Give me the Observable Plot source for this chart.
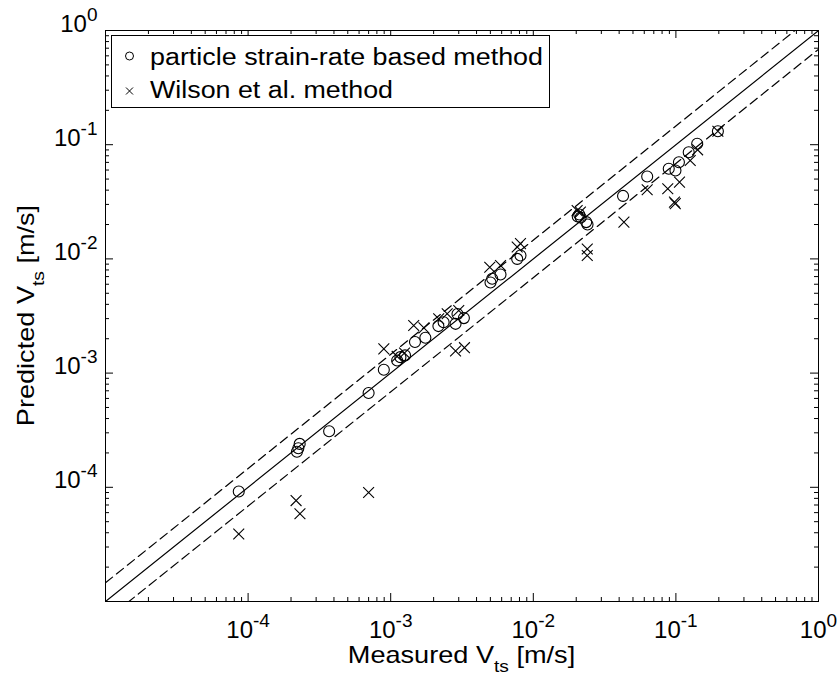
<!DOCTYPE html>
<html><head><meta charset="utf-8">
<script src="https://cdn.jsdelivr.net/npm/d3@7"></script>
<script src="https://cdn.jsdelivr.net/npm/@observablehq/plot@0.6"></script>
<style>
html,body{margin:0;padding:0;background:#fff;}
#chart svg{display:block;font-family:"Liberation Sans",Arial,Helvetica,sans-serif;}
</style></head><body><div id="chart"></div>
<script>
// ---- data ----
const strainX = [8.6e-5, 2.2e-4, 2.25e-4, 2.3e-4, 3.7e-4, 7.0e-4, 8.95e-4, 1.11e-3, 1.17e-3, 1.26e-3, 1.48e-3, 1.75e-3, 2.16e-3, 2.35e-3, 2.85e-3, 2.94e-3, 3.26e-3, 5.01e-3, 5.15e-3, 5.89e-3, 7.71e-3, 8.13e-3, 2.05e-2, 2.1e-2, 2.15e-2, 2.35e-2, 2.4e-2, 4.26e-2, 6.29e-2, 8.91e-2, 9.93e-2, 0.105, 0.123, 0.141, 0.197];
const strainY = [9.2e-5, 2.05e-4, 2.2e-4, 2.4e-4, 3.1e-4, 6.7e-4, 1.07e-3, 1.29e-3, 1.38e-3, 1.43e-3, 1.87e-3, 2.04e-3, 2.58e-3, 2.79e-3, 2.70e-3, 3.29e-3, 3.03e-3, 6.21e-3, 6.70e-3, 7.30e-3, 1.00e-2, 1.07e-2, 2.35e-2, 2.45e-2, 2.3e-2, 2.1e-2, 2.0e-2, 3.56e-2, 5.27e-2, 6.15e-2, 5.95e-2, 7.03e-2, 8.6e-2, 0.102, 0.131];
const wilsonX = [8.6e-5, 2.17e-4, 2.31e-4, 7.0e-4, 8.95e-4, 1.11e-3, 1.25e-3, 1.45e-3, 1.71e-3, 2.17e-3, 2.49e-3, 3.0e-3, 2.85e-3, 3.29e-3, 4.95e-3, 5.89e-3, 7.71e-3, 8.13e-3, 2.03e-2, 2.14e-2, 2.39e-2, 2.39e-2, 4.32e-2, 6.29e-2, 8.77e-2, 0.106, 9.77e-2, 9.9e-2, 0.126, 0.142, 0.197];
const wilsonY = [3.9e-5, 7.65e-5, 5.86e-5, 9.0e-5, 1.63e-3, 1.40e-3, 1.50e-3, 2.61e-3, 2.49e-3, 2.99e-3, 3.31e-3, 3.53e-3, 1.56e-3, 1.67e-3, 8.46e-3, 8.76e-3, 1.27e-2, 1.36e-2, 2.65e-2, 2.57e-2, 1.22e-2, 1.07e-2, 2.10e-2, 4.03e-2, 4.11e-2, 4.70e-2, 3.14e-2, 3.05e-2, 7.28e-2, 9.02e-2, 0.131];
const refX = [1e-5, 1];
const refFactors = [1, 1.46, 1 / 1.46];
const majorTicks = [1e-5, 1e-4, 1e-3, 1e-2, 1e-1, 1];
const labelTicks = [1e-4, 1e-3, 1e-2, 1e-1, 1];
const tickExponents = ["-4", "-3", "-2", "-1", "0"];
const minorMultipliers = [2, 3, 4, 5, 6, 7, 8, 9];
const legendLabels = ["particle strain-rate based method", "Wilson et al. method"];
const xTitle = ["Measured V", "ts", " [m/s]"];
const yTitle = ["Predicted V", "ts", " [m/s]"];

// ---- layout ----
const W = 840, H = 678, mL = 105, mR = 22, mT = 30, mB = 77;
const fW = W - mL - mR, fH = H - mT - mB;
const majorLen = 8, minorLen = 4;

const minorTicks = majorTicks.slice(0, -1).flatMap(d => minorMultipliers.map(k => k * d));
const strain = strainX.map((x, i) => ({x, y: strainY[i]}));
const wilson = wilsonX.map((x, i) => ({x, y: wilsonY[i]}));
const refLines = refFactors.map(f => refX.map(x => ({x, y: x * f})));
const expOf = d => tickExponents[labelTicks.indexOf(d)];

const tickMarks = [];
for (const [data, len] of [[majorTicks, majorLen], [minorTicks, minorLen]]) {
  tickMarks.push(Plot.tickX(data, {x: d => d, insetTop: fH - len, stroke: "#000"}));
  tickMarks.push(Plot.tickX(data, {x: d => d, insetBottom: fH - len, stroke: "#000"}));
  tickMarks.push(Plot.tickY(data, {y: d => d, insetRight: fW - len, stroke: "#000"}));
  tickMarks.push(Plot.tickY(data, {y: d => d, insetLeft: fW - len, stroke: "#000"}));
}

const chart = Plot.plot({
  width: W, height: H,
  marginLeft: mL, marginRight: mR, marginTop: mT, marginBottom: mB,
  style: {background: "#fff", color: "#000", fontFamily: "'Liberation Sans', Arial, sans-serif"},
  x: {type: "log", domain: [1e-5, 1], label: null},
  y: {type: "log", domain: [1e-5, 1], label: null},
  marks: [
    ...refLines.map((pts, k) => Plot.line(pts, {
      x: d => d.x, y: d => d.y, stroke: "#000", strokeWidth: 1.2, clip: true,
      ...(k === 0 ? {} : {strokeDasharray: "9,5"})
    })),
    Plot.dot(strain, {x: d => d.x, y: d => d.y, r: 5.5, stroke: "#000", fill: "none", strokeWidth: 1.1}),
    Plot.dot(wilson, {x: d => d.x, y: d => d.y, symbol: "times", r: 5, stroke: "#000", strokeWidth: 1.1}),
    ...tickMarks,
    Plot.frame({stroke: "#000"}),
    Plot.axisX(labelTicks, {anchor: "bottom", tickSize: 0, tickPadding: 0, fontSize: 24, tickFormat: expOf, label: null}),
    Plot.axisY(labelTicks, {anchor: "left", tickSize: 0, tickPadding: 8, fontSize: 24, tickFormat: expOf, label: null})
  ]
});
document.getElementById("chart").append(chart);

// ---- superscript tick labels ----
const svg = d3.select(chart);
function sup(sel, supSize, shift) {
  const e = sel.text();
  sel.text(null);
  sel.append("tspan").text("10");
  sel.append("tspan").attr("dy", -shift).attr("font-size", supSize).text(e);
}
svg.selectAll('g[aria-label="x-axis tick label"] text').each(function () {
  const s = d3.select(this);
  sup(s, 19, 11);
  s.attr("y", 36).attr("dy", 0).attr("text-anchor", "middle");
});
svg.selectAll('g[aria-label="y-axis tick label"] text').each(function () {
  const s = d3.select(this);
  sup(s, 19, 11);
  s.attr("y", 1).attr("dy", 0).attr("text-anchor", "end");
});

// ---- axis titles ----
function title(parts, transform, sub) {
  const t = svg.append("text").attr("transform", transform).attr("text-anchor", "middle")
    .attr("font-size", 24).attr("fill", "#000");
  t.append("tspan").text(parts[0]);
  t.append("tspan").attr("dy", sub).attr("font-size", 17).text(parts[1]);
  t.append("tspan").attr("dy", -sub).text(parts[2]);
}
title(xTitle, `translate(${mL + fW / 2},663) scale(1.13,1)`, 9);
title(yTitle, `translate(34,${mT + fH / 2}) rotate(-90) scale(1.13,1)`, 10);

// ---- legend ----
const lg = svg.append("g").attr("aria-label", "legend");
lg.append("rect").attr("x", 111.5).attr("y", 35.5).attr("width", 438).attr("height", 72)
  .attr("fill", "#fff").attr("stroke", "#000");
lg.append("circle").attr("cx", 129.5).attr("cy", 56).attr("r", 4).attr("fill", "none").attr("stroke", "#000");
lg.append("path").attr("d", "M126,87.5L133,94.5M126,94.5L133,87.5").attr("stroke", "#000").attr("fill", "none");
const widths = [393, 243];
legendLabels.forEach((lab, i) => {
  lg.append("text").attr("x", 150).attr("y", 65 + i * 33).attr("font-size", 23)
    .attr("text-anchor", "start")
    .attr("textLength", widths[i]).attr("lengthAdjust", "spacingAndGlyphs").attr("fill", "#000").text(lab);
});
</script></body></html>
